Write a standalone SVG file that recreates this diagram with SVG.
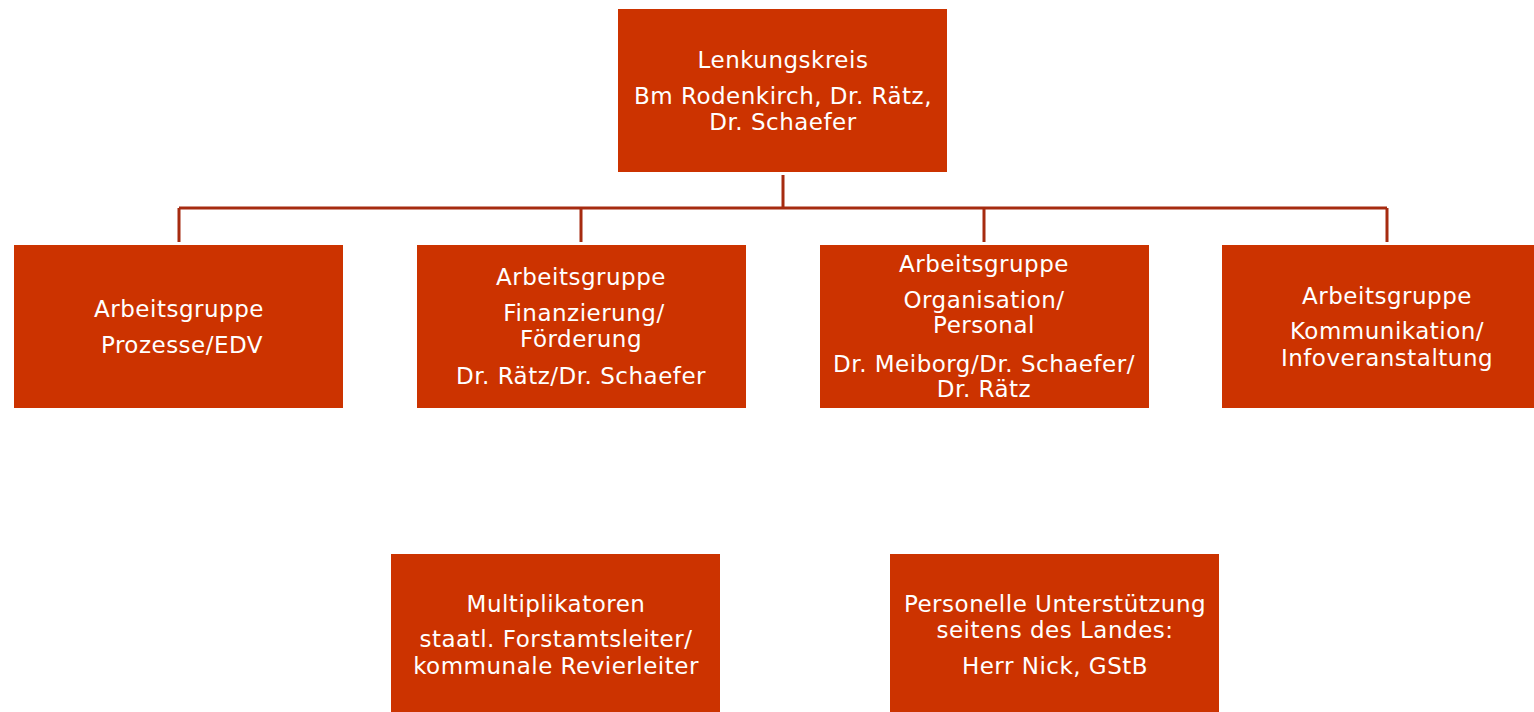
<svg xmlns="http://www.w3.org/2000/svg" width="1534" height="712" viewBox="0 0 1534 712">
<style>
.box{fill:#CC3300;}
.t{fill:#FFFFFF;font-family:"DejaVu Sans","Liberation Sans",sans-serif;font-size:23px;letter-spacing:0.5px;text-anchor:middle;}
.c{fill:none;stroke:#A62B10;stroke-width:3;}
</style>
<rect width="1534" height="712" fill="#FFFFFF"/>
<g id="connectors">
<path class="c" d="M783 175 V208 M179 208 H1387 M179 208 V242 M581 208 V242 M984 208 V242 M1387 208 V242"/>
</g>
<g id="lenkungskreis">
<rect class="box" x="618" y="9" width="329" height="163"/>
<text class="t" x="783" y="68">Lenkungskreis</text>
<text class="t" x="783" y="104">Bm Rodenkirch, Dr. Rätz,</text>
<text class="t" x="783" y="130">Dr. Schaefer</text>
</g>
<g id="ag-prozesse">
<rect class="box" x="14" y="245" width="329" height="163"/>
<text class="t" x="179" y="317">Arbeitsgruppe</text>
<text class="t" x="182" y="353">Prozesse/EDV</text>
</g>
<g id="ag-finanzierung">
<rect class="box" x="417" y="245" width="329" height="163"/>
<text class="t" x="581" y="285">Arbeitsgruppe</text>
<text class="t" x="584" y="321">Finanzierung/</text>
<text class="t" x="581" y="347">Förderung</text>
<text class="t" x="581" y="384">Dr. Rätz/Dr. Schaefer</text>
</g>
<g id="ag-organisation">
<rect class="box" x="820" y="245" width="329" height="163"/>
<text class="t" x="984" y="272">Arbeitsgruppe</text>
<text class="t" x="984" y="308">Organisation/</text>
<text class="t" x="984" y="333">Personal</text>
<text class="t" x="984" y="372">Dr. Meiborg/Dr. Schaefer/</text>
<text class="t" x="984" y="397">Dr. Rätz</text>
</g>
<g id="ag-kommunikation">
<rect class="box" x="1222" y="245" width="329" height="163"/>
<text class="t" x="1387" y="304">Arbeitsgruppe</text>
<text class="t" x="1387" y="339">Kommunikation/</text>
<text class="t" x="1387" y="366">Infoveranstaltung</text>
</g>
<g id="multiplikatoren">
<rect class="box" x="391" y="554" width="329" height="163"/>
<text class="t" x="556" y="612">Multiplikatoren</text>
<text class="t" x="556" y="647">staatl. Forstamtsleiter/</text>
<text class="t" x="556" y="674">kommunale Revierleiter</text>
</g>
<g id="personelle-unterstuetzung">
<rect class="box" x="890" y="554" width="329" height="163"/>
<text class="t" x="1055" y="612">Personelle Unterstützung</text>
<text class="t" x="1055" y="638">seitens des Landes:</text>
<text class="t" x="1055" y="674">Herr Nick, GStB</text>
</g>
</svg>
